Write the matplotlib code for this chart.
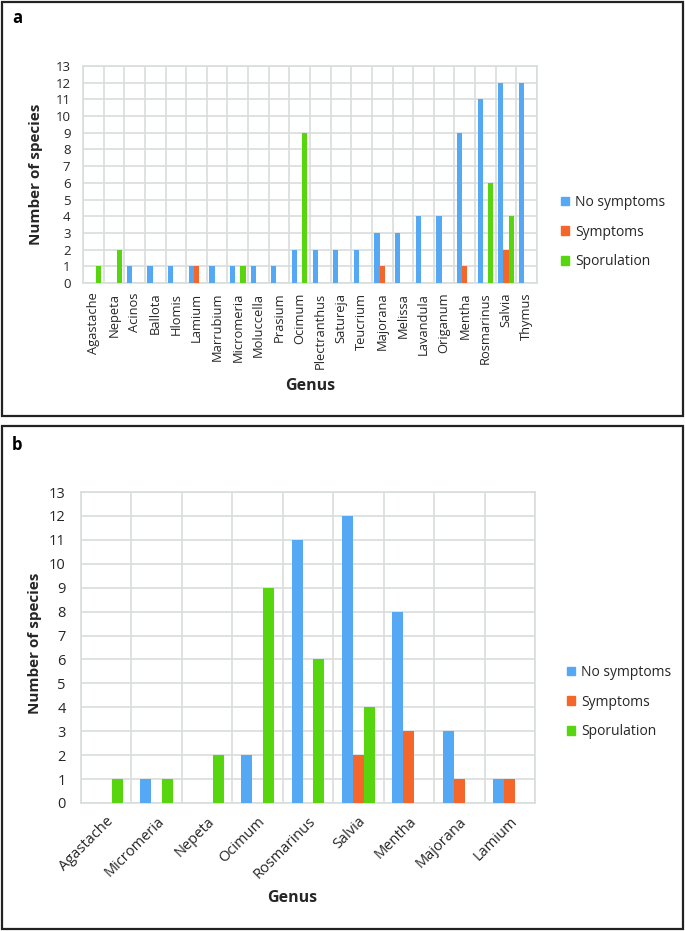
import numpy as np
import matplotlib.pyplot as plt
from matplotlib.patches import Rectangle, Patch

plt.rcParams['font.family'] = ['Open Sans', 'DejaVu Sans']

# panel a data
genera_a = ['Agastache', 'Nepeta', 'Acinos', 'Ballota', 'Hlomis', 'Lamium', 'Marrubium',
            'Micromeria', 'Moluccella', 'Prasium', 'Ocimum', 'Plectranthus', 'Satureja',
            'Teucrium', 'Majorana', 'Melissa', 'Lavandula', 'Origanum', 'Mentha',
            'Rosmarinus', 'Salvia', 'Thymus']
no_symptoms_a = [0, 0, 1, 1, 1, 1, 1, 1, 1, 1, 2, 2, 2, 2, 3, 3, 4, 4, 9, 11, 12, 12]
symptoms_a = [0, 0, 0, 0, 0, 1, 0, 0, 0, 0, 0, 0, 0, 0, 1, 0, 0, 0, 1, 0, 2, 0]
sporulation_a = [1, 2, 0, 0, 0, 0, 0, 1, 0, 0, 9, 0, 0, 0, 0, 0, 0, 0, 0, 6, 4, 0]

# panel b data
genera_b = ['Agastache', 'Micromeria', 'Nepeta', 'Ocimum', 'Rosmarinus', 'Salvia',
            'Mentha', 'Majorana', 'Lamium']
no_symptoms_b = [0, 1, 0, 2, 11, 12, 8, 3, 1]
symptoms_b = [0, 0, 0, 0, 0, 2, 3, 1, 1]
sporulation_b = [1, 1, 2, 9, 6, 4, 0, 0, 0]

series_names = ['No symptoms', 'Symptoms', 'Sporulation']
colors = ['#55A9F4', '#F4662A', '#57D60F']
grid_c = '#D8DEDC'
txt_c = '#262626'

W, H = 685, 931
fig = plt.figure(figsize=(W / 100, H / 100), dpi=100)


def fx(px):
    return px / W


def fy(py):
    return 1 - py / H


def draw_panel(rect, genera, series, width, tick_fs, pad):
    ax = fig.add_axes(rect)
    x = np.arange(len(genera))
    for i, (vals, c) in enumerate(zip(series, colors)):
        ax.bar(x + (i - 1) * width, vals, width, color=c, zorder=3, linewidth=0)
    ax.set_xlim(-0.5, len(genera) - 0.5)
    ax.set_ylim(0, 13)
    ax.set_yticks(range(14))
    ax.set_xticks(x)
    ax.set_xticks(np.arange(len(genera) + 1) - 0.5, minor=True)
    ax.grid(True, which='minor', axis='x', color=grid_c, lw=1.2, zorder=0)
    ax.grid(True, which='major', axis='y', color=grid_c, lw=1.2, zorder=0)
    ax.tick_params(which='both', length=0, colors=txt_c)
    ax.tick_params(axis='y', labelsize=tick_fs, pad=pad)
    for s in ax.spines.values():
        s.set_color(grid_c)
        s.set_linewidth(1.2)
    return ax


# frames
fig.patches.append(Rectangle((fx(2), fy(416)), fx(681), 414 / H, transform=fig.transFigure,
                             fill=False, ec='#222222', lw=1.6))
fig.patches.append(Rectangle((fx(2), fy(929)), fx(681), 503 / H, transform=fig.transFigure,
                             fill=False, ec='#222222', lw=1.6))

# panel a
ax_a = draw_panel([fx(83), fy(283), fx(454), 217 / H], genera_a,
                  [no_symptoms_a, symptoms_a, sporulation_a], 0.25, 9.5, 9)
ax_a.set_xticklabels(genera_a, rotation=90, fontsize=9.3)
ax_a.tick_params(axis='x', pad=7)
ax_a.set_ylabel('Number of species', fontsize=11, fontweight='bold', color=txt_c)
ax_a.yaxis.set_label_coords(-0.088, 0.5)
ax_a.set_xlabel('Genus', fontsize=11.5, fontweight='bold', color=txt_c)
ax_a.xaxis.set_label_coords(0.5, -0.44)
fig.text(fx(12), fy(18), 'a', fontsize=12, fontweight='bold', va='center', ha='left')

# panel b
ax_b = draw_panel([fx(81), fy(803), fx(454), 311 / H], genera_b,
                  [no_symptoms_b, symptoms_b, sporulation_b], 0.218, 10.5, 11)
ax_b.set_xticklabels(genera_b, rotation=45, ha='right', rotation_mode='anchor', fontsize=10.5)
ax_b.tick_params(axis='x', pad=8)
ax_b.set_ylabel('Number of species', fontsize=11, fontweight='bold', color=txt_c)
ax_b.yaxis.set_label_coords(-0.086, 0.514)
ax_b.set_xlabel('Genus', fontsize=11.5, fontweight='bold', color=txt_c)
ax_b.xaxis.set_label_coords(0.465, -0.28)
fig.text(fx(12), fy(445), 'b', fontsize=12, fontweight='bold', va='center', ha='left')

handles = [Patch(color=c, label=n) for c, n in zip(colors, series_names)]
for bx, by in [(561, 232), (567, 702)]:
    fig.legend(handles=handles, loc='center left', bbox_to_anchor=(fx(bx), fy(by)),
               frameon=False, fontsize=10, handlelength=0.6, handleheight=0.6,
               handletextpad=0.4, labelspacing=1.05, borderpad=0, borderaxespad=0,
               labelcolor=txt_c)

fig.savefig('out.png', dpi=100)
